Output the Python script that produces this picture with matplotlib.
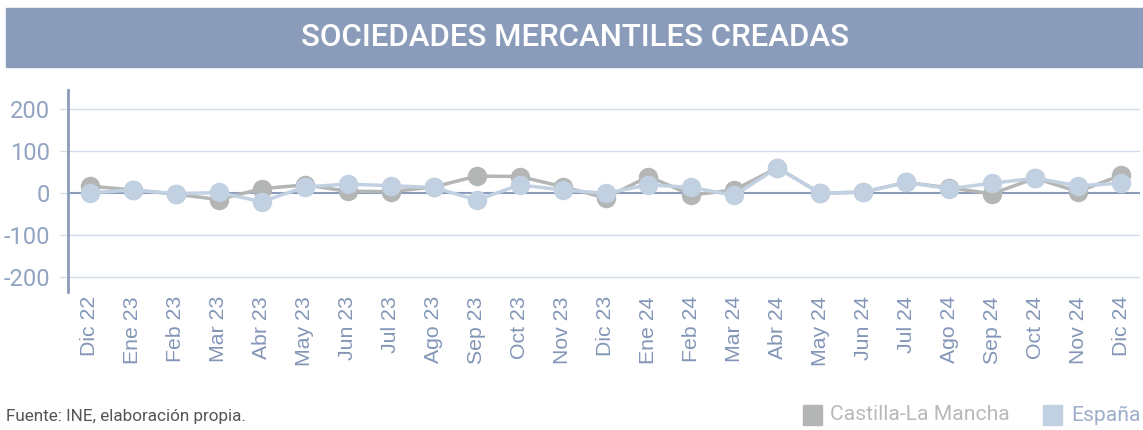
import matplotlib
matplotlib.use("Agg")
import matplotlib.pyplot as plt
from matplotlib.patches import Rectangle

# Data
meses = ["Dic 22", "Ene 23", "Feb 23", "Mar 23", "Abr 23", "May 23", "Jun 23",
         "Jul 23", "Ago 23", "Sep 23", "Oct 23", "Nov 23", "Dic 23", "Ene 24",
         "Feb 24", "Mar 24", "Abr 24", "May 24", "Jun 24", "Jul 24", "Ago 24",
         "Sep 24", "Oct 24", "Nov 24", "Dic 24"]
castilla = [16, 7, -3, -16, 10, 19, 4, 3, 14, 40, 39, 15, -12, 39,
            -5, 7, 60, -1, 2, 25, 12, -2, 35, 3, 42]
espana = [0, 7, -2, 1, -21, 14, 21, 17, 13, -17, 19, 7, -1, 19,
          13, -6, 60, -1, 2, 25, 10, 23, 35, 17, 23]
yticks = [-200, -100, 0, 100, 200]

c_title = "#8a9cba"
c_tick = "#8396b7"
c_gray = "#b4b6b6"
c_blue = "#c2d1e1"
c_grid = "#d3dce9"

plt.rcParams['font.family'] = ['Roboto', 'DejaVu Sans']

fig = plt.figure(figsize=(11.43, 4.3), dpi=100)

# title band
fig.patches.append(Rectangle((6 / 1143, 1 - 67 / 430), 1137 / 1143, 59 / 430,
                             transform=fig.transFigure, color=c_title, zorder=0))
fig.text(575 / 1143, 1 - 38 / 430, "SOCIEDADES MERCANTILES CREADAS",
         ha="center", va="center", color="white", fontsize=22.5, fontweight="medium")

ax = fig.add_axes([68 / 1143, 1 - 292 / 430, 1072 / 1143, 202 / 430])
x = list(range(len(meses)))
ax.plot(x, castilla, color=c_gray, lw=2.5, marker="o", ms=13, zorder=3)
ax.plot(x, espana, color=c_blue, lw=2.5, marker="o", ms=13, zorder=4)

ax.set_xlim(-0.51, 24.44)
ax.set_ylim(-236, 245)
ax.set_yticks(yticks)
ax.set_yticklabels([str(v) for v in yticks])
ax.set_xticks(x)
ax.set_xticklabels(meses, rotation=90, family=["Liberation Sans", "DejaVu Sans"])
for v in yticks:
    if v != 0:
        ax.axhline(v, color=c_grid, lw=1, zorder=1)
ax.axhline(0, color=c_title, lw=1.5, zorder=2)

for s in ["top", "right", "bottom"]:
    ax.spines[s].set_visible(False)
ax.spines["left"].set_color(c_title)
ax.spines["left"].set_linewidth(2)
ax.tick_params(axis="y", length=6, width=1, color=c_grid, pad=7,
               labelsize=17, labelcolor="#93a4c2")
ax.tick_params(axis="x", length=0, pad=3, labelsize=15.3, labelcolor=c_tick)
ax.yaxis.get_major_ticks()[2].tick1line.set_color(c_title)

# footer
fig.text(6 / 1143, 1 - 416 / 430, "Fuente: INE, elaboración propia.",
         ha="left", va="center", color="#555555", fontsize=12.3)
fig.patches.append(Rectangle((803 / 1143, 1 - 425 / 430), 19 / 1143, 20 / 430,
                             transform=fig.transFigure, color=c_gray))
fig.text(830 / 1143, 1 - 415 / 430, "Castilla-La Mancha", ha="left", va="center",
         color="#b8baba", fontsize=15.2)
fig.patches.append(Rectangle((1043 / 1143, 1 - 425 / 430), 19 / 1143, 20 / 430,
                             transform=fig.transFigure, color=c_blue))
fig.text(1071 / 1143, 1 - 415 / 430, "España", ha="left", va="center",
         color="#9eaecb", fontsize=15.2)

fig.savefig("out.png", dpi=100)
